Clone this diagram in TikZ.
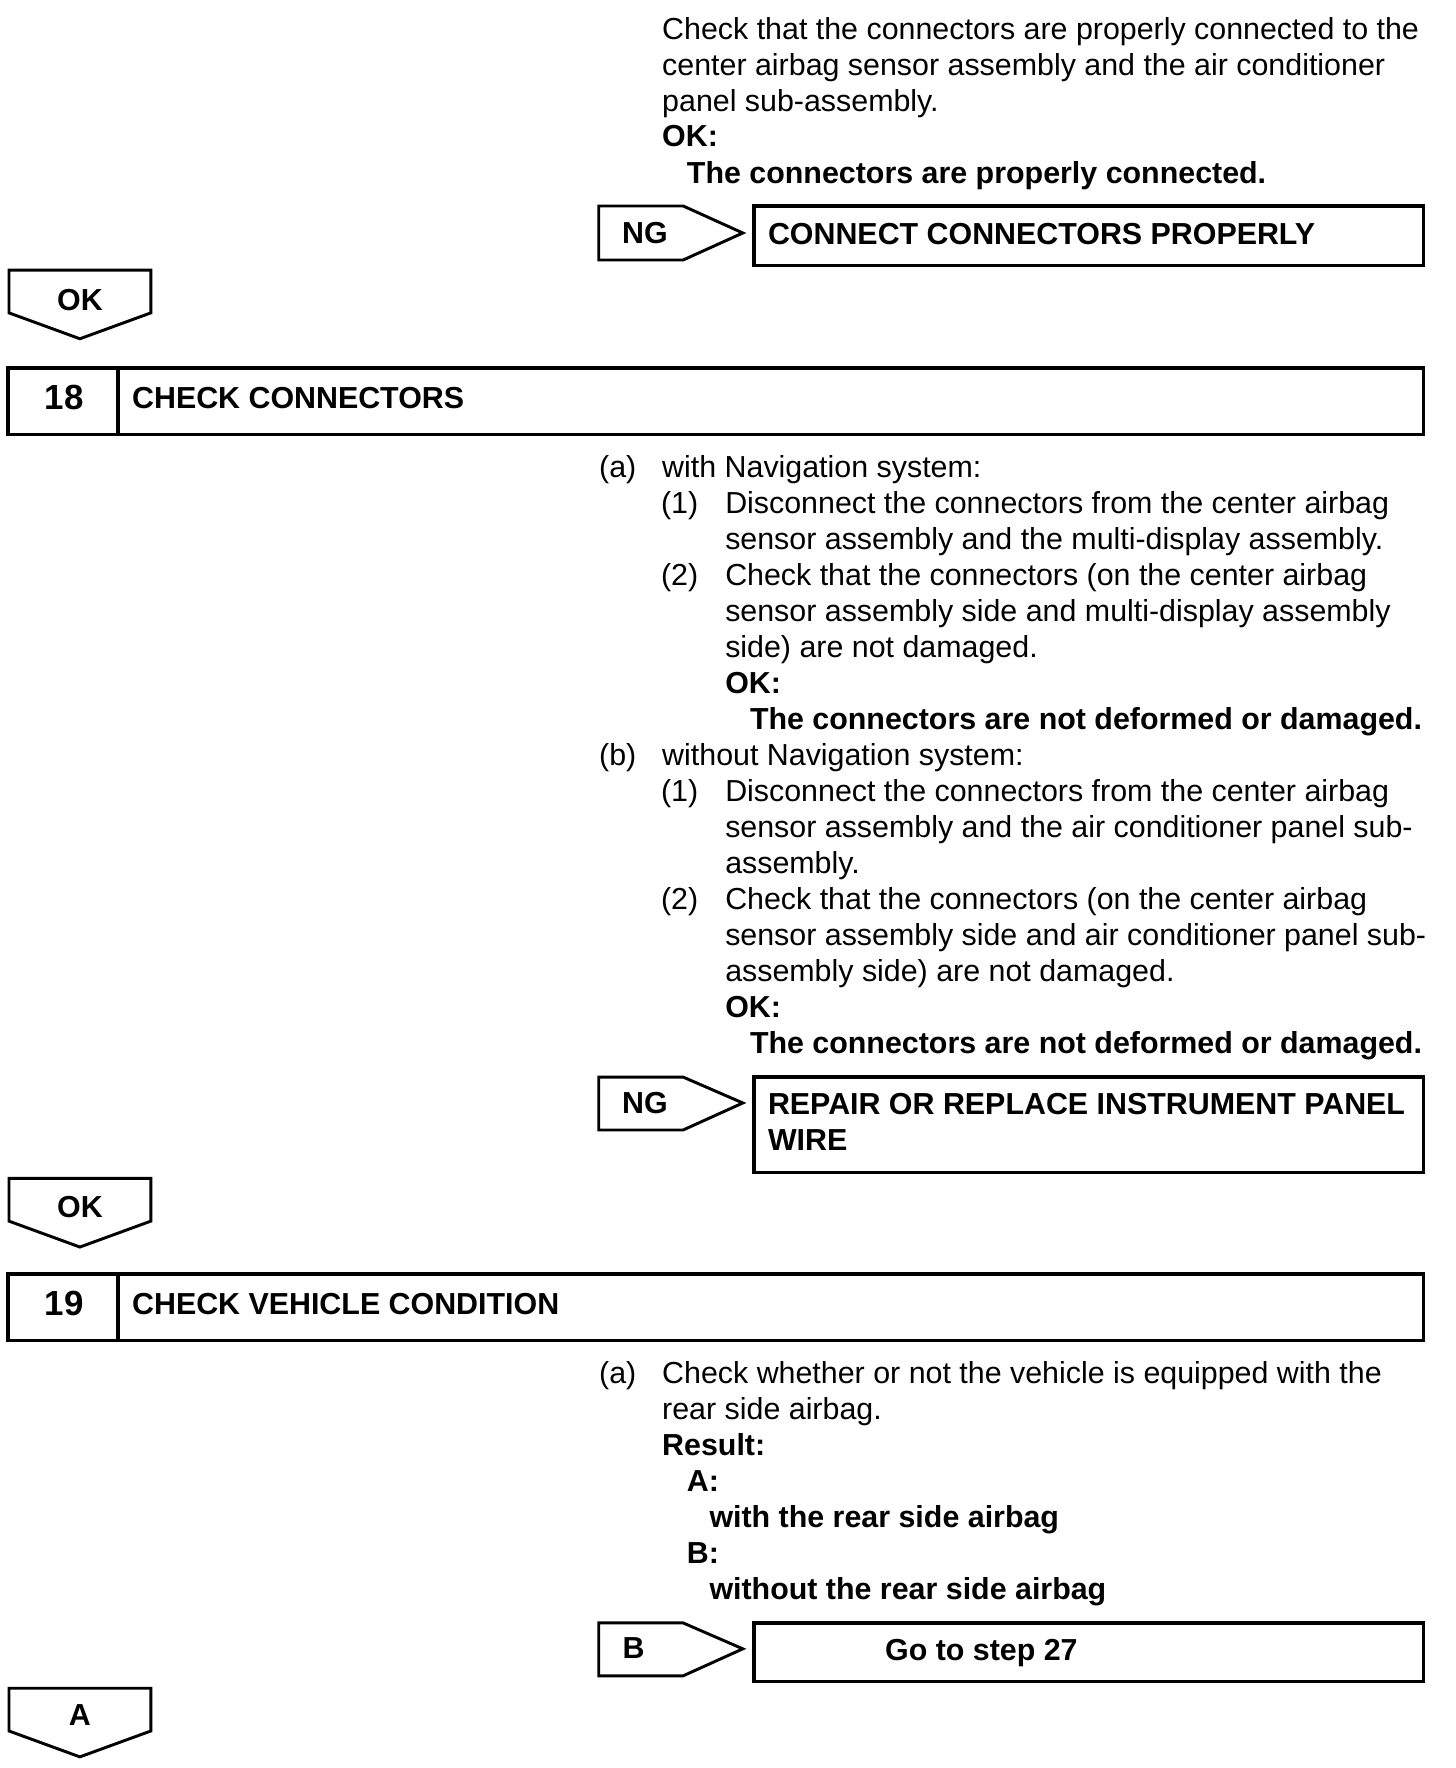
\documentclass[tikz,border=0pt]{standalone}
\usepackage{fontspec}
\setmainfont{Liberation Sans}
\begin{document}
\begin{tikzpicture}[x=0.5pt,y=-0.5pt,
	txt/.style={anchor=base west,inner sep=0pt,font=\fontsize{13.5}{16}\selectfont},
	btxt/.style={anchor=base west,inner sep=0pt,font=\fontsize{13.5}{16}\selectfont\bfseries},
	stepno/.style={anchor=base,inner sep=0pt,font=\fontsize{15.5}{18}\selectfont\bfseries},
	frame/.style={draw=black,line width=1.5pt},
	tag/.style={draw=black,line width=1.3pt,line join=miter}]
	
	\useasboundingbox (0,-2) rectangle (1293.6,1568.9);
	
	% end of step 17
	\node[txt] (p1) at (588,33)  {Check that the connectors are properly connected to the};
	\node[txt] (p2) at (588,65)  {center airbag sensor assembly and the air conditioner};
	\node[txt] (p3) at (588,97)  {panel sub-assembly.};
	\node[btxt] (p4) at (588,128) {OK:};
	\node[btxt] (p5) at (610,161) {The connectors are properly connected.};
	
	\draw[tag] (532,181) -- (607,181) -- (660,205) -- (607,229) -- (532,229) -- cycle;
	\node[btxt,anchor=base] (ng1) at (573,214) {NG};
	\draw[frame] (670,181) rectangle (1265,234);
	\node[btxt] (fix1) at (682,215) {CONNECT CONNECTORS PROPERLY};
	
	\draw[tag] (8,238) -- (134,238) -- (134,276) -- (71,299) -- (8,276) -- cycle;
	\node[btxt,anchor=base] (ok1) at (71,274) {OK};
	
	% step 18
	\draw[frame] (7,325) rectangle (1265,384);
	\draw[frame] (105,325) -- (105,384);
	\node[stepno] (s18) at (57,362) {18};
	\node[btxt] (h18) at (117,361) {CHECK CONNECTORS};
	
	\node[txt] (a18) at (532,422) {(a)};
	\node[txt] (a0) at (588,422) {with Navigation system:};
	\node[txt] (a1) at (587,454) {(1)};
	\node[txt] (a1a) at (644,454) {Disconnect the connectors from the center airbag};
	\node[txt] (a1b) at (644,486) {sensor assembly and the multi-display assembly.};
	\node[txt] (a2) at (587,518) {(2)};
	\node[txt] (a2a) at (644,518) {Check that the connectors (on the center airbag};
	\node[txt] (a2b) at (644,550) {sensor assembly side and multi-display assembly};
	\node[txt] (a2c) at (644,582) {side) are not damaged.};
	\node[btxt] (a2d) at (644,614) {OK:};
	\node[btxt] (a2e) at (666,646) {The connectors are not deformed or damaged.};
	
	\node[txt] (b18) at (532,678) {(b)};
	\node[txt] (b0) at (588,678) {without Navigation system:};
	\node[txt] (b1) at (587,710) {(1)};
	\node[txt] (b1a) at (644,710) {Disconnect the connectors from the center airbag};
	\node[txt] (b1b) at (644,742) {sensor assembly and the air conditioner panel sub-};
	\node[txt] (b1c) at (644,774) {assembly.};
	\node[txt] (b2) at (587,806) {(2)};
	\node[txt] (b2a) at (644,806) {Check that the connectors (on the center airbag};
	\node[txt] (b2b) at (644,838) {sensor assembly side and air conditioner panel sub-};
	\node[txt] (b2c) at (644,870) {assembly side) are not damaged.};
	\node[btxt] (b2d) at (644,902) {OK:};
	\node[btxt] (b2e) at (666,934) {The connectors are not deformed or damaged.};
	
	\draw[tag] (532,955) -- (607,955) -- (660,978) -- (607,1002) -- (532,1002) -- cycle;
	\node[btxt,anchor=base] (ng2) at (573,987) {NG};
	\draw[frame] (670,955) rectangle (1265,1040);
	\node[btxt] (fix2a) at (682,988) {REPAIR OR REPLACE INSTRUMENT PANEL};
	\node[btxt] (fix2b) at (682,1020) {WIRE};
	
	\draw[tag] (8,1045) -- (134,1045) -- (134,1083) -- (71,1106) -- (8,1083) -- cycle;
	\node[btxt,anchor=base] (ok2) at (71,1080) {OK};
	
	% step 19
	\draw[frame] (7,1130) rectangle (1265,1189);
	\draw[frame] (105,1130) -- (105,1189);
	\node[stepno] (s19) at (57,1167) {19};
	\node[btxt] (h19) at (117,1166) {CHECK VEHICLE CONDITION};
	
	\node[txt] (a19) at (532,1227) {(a)};
	\node[txt] (c0) at (588,1227) {Check whether or not the vehicle is equipped with the};
	\node[txt] (c1) at (588,1259) {rear side airbag.};
	\node[btxt] (res) at (588,1291) {Result:};
	\node[btxt] (ra) at (610,1323) {A:};
	\node[btxt] (ra1) at (630,1355) {with the rear side airbag};
	\node[btxt] (rb) at (610,1387) {B:};
	\node[btxt] (rb1) at (630,1419) {without the rear side airbag};
	
	\draw[tag] (532,1440) -- (607,1440) -- (660,1463) -- (607,1487) -- (532,1487) -- cycle;
	\node[btxt,anchor=base] (gb) at (563,1472) {B};
	\draw[frame] (670,1440) rectangle (1265,1492);
	\node[btxt,anchor=base] (go27) at (872,1473) {Go to step 27};
	
	\draw[tag] (8,1498) -- (134,1498) -- (134,1536) -- (71,1559) -- (8,1536) -- cycle;
	\node[btxt,anchor=base] (ga) at (71,1531) {A};
	
\end{tikzpicture}
\end{document}
